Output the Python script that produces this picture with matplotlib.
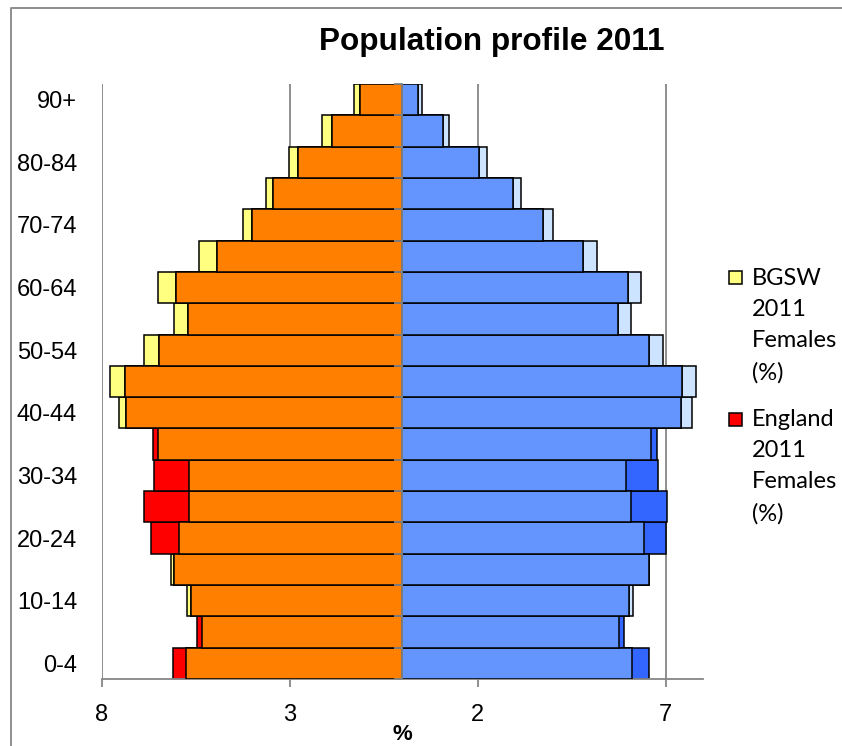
import numpy as np
import matplotlib
matplotlib.use("Agg")
import matplotlib.pyplot as plt
from matplotlib.patches import Rectangle
from matplotlib.lines import Line2D

# ---------------- data ----------------
age_groups = ['0-4', '5-9', '10-14', '15-19', '20-24', '25-29', '30-34', '35-39',
              '40-44', '45-49', '50-54', '55-59', '60-64', '65-69', '70-74',
              '75-79', '80-84', '85-89', '90+']

bgsw_females = [5.75, 5.32, 5.73, 6.16, 5.93, 5.68, 5.68, 6.49, 7.54, 7.77,
                6.87, 6.07, 6.49, 5.40, 4.23, 3.62, 3.01, 2.13, 1.28]
england_females = [6.09, 5.47, 5.61, 6.07, 6.68, 6.86, 6.61, 6.63, 7.35, 7.37,
                   6.46, 5.69, 6.03, 4.93, 4.00, 3.44, 2.77, 1.86, 1.13]
bgsw_males = [6.12, 5.77, 6.13, 6.55, 6.44, 6.07, 5.95, 6.61, 7.70, 7.80,
              6.94, 6.07, 6.34, 5.19, 4.02, 3.15, 2.25, 1.25, 0.52]
england_males = [6.57, 5.90, 6.04, 6.57, 7.00, 7.03, 6.80, 6.77, 7.40, 7.43,
                 6.55, 5.74, 6.00, 4.80, 3.73, 2.95, 2.05, 1.07, 0.43]

x_ticks = [-8, -3, 2, 7]
x_tick_labels = ['8', '3', '2', '7']
title = 'Population profile 2011'
x_label = '%'
legend_labels = ['BGSW\n2011\nFemales\n(%)', 'England\n2011\nFemales\n(%)']

# ---------------- style ----------------
W, H = 842, 746
GREY = '#868686'
C_BGSW_F = '#FFFF80'
C_ENG_F = '#FF0000'
C_OVL_F = '#FF8000'
C_BGSW_M = '#CCE4FF'
C_ENG_M = '#3366FF'
C_OVL_M = '#6495FF'
TICK_FONT = 'Liberation Sans'
LEG_FONT = 'Lato'

fig = plt.figure(figsize=(W / 100, H / 100), dpi=100)
ax = fig.add_axes([101.5 / W, 1 - 679 / H, 601.6 / W, 595 / H])

y = np.arange(len(age_groups))
bf = np.array(bgsw_females)
ef = np.array(england_females)
bm = np.array(bgsw_males)
em = np.array(england_males)

kw = dict(height=1.0, edgecolor='black', linewidth=1.1)
# females (left)
ax.barh(y, -bf, color=C_BGSW_F, zorder=2, **kw)
ax.barh(y, -ef, color=C_ENG_F, zorder=2, **kw)
ax.barh(y, -np.minimum(bf, ef), color=C_OVL_F, zorder=3, **kw)
# males (right)
ax.barh(y, bm, color=C_BGSW_M, zorder=2, **kw)
ax.barh(y, em, color=C_ENG_M, zorder=2, **kw)
ax.barh(y, np.minimum(bm, em), color=C_OVL_M, zorder=3, **kw)

ax.set_xlim(-8, 8)
ax.set_ylim(-0.5, len(age_groups) - 0.5)

ax.set_xticks(x_ticks)
ax.set_xticklabels(x_tick_labels, fontfamily=TICK_FONT, fontsize=17)
ax.tick_params(axis='x', direction='out', length=5.8, width=1.3, color=GREY, pad=12)
ax.grid(axis='x', color=GREY, linewidth=1.3, zorder=0)
ax.set_axisbelow(True)

ax.set_yticks(y[::2])
ax.set_yticklabels(age_groups[::2], fontfamily=TICK_FONT, fontsize=17)
ax.tick_params(axis='y', length=0, pad=17.5)

for s in ['left', 'top', 'right']:
    ax.spines[s].set_visible(False)
ax.spines['bottom'].set_color(GREY)
ax.spines['bottom'].set_linewidth(1.3)

ax.set_xlabel(x_label, fontfamily=TICK_FONT, fontsize=16, fontweight='bold', labelpad=-1)

# central vertical axis with category boundary ticks
sec = ax.secondary_yaxis(0.5)
sec.set_alignment('left')
sec.set_yticks(np.arange(-0.5, len(age_groups), 1.0))
sec.tick_params(axis='y', direction='out', length=5.8, width=1.3, color=GREY,
                labelleft=False, labelright=False)
sec.spines['left'].set_color(GREY)
sec.spines['left'].set_linewidth(1.3)
sec.set_zorder(5)

# title
fig.text(491.5 / W, 1 - 50 / H, title, ha='center', va='baseline',
         fontfamily='Liberation Sans', fontsize=22.7, fontweight='bold')

# legend (female series only, as in the reference)
leg_colors = [C_BGSW_F, C_ENG_F]
first_baselines = [285, 426.7]
last_baselines = [379.5, 520.5]
for lab, col, b0, b1 in zip(legend_labels, leg_colors, first_baselines, last_baselines):
    fig.add_artist(Rectangle((728.5 / W, 1 - (b0 - 1) / H), 13 / W, 13 / H,
                             transform=fig.transFigure, facecolor=col,
                             edgecolor='black', linewidth=1.1))
    fig.text(752 / W, 1 - b1 / H, lab, ha='left', va='baseline',
             fontfamily=LEG_FONT, fontsize=17, linespacing=1.6)

# chart border (left and top edges visible)
fig.add_artist(Line2D([10.5 / W, 10.5 / W, 1.0], [0.0, 1 - 7.5 / H, 1 - 7.5 / H],
                      transform=fig.transFigure, color=GREY, linewidth=1.3))

fig.savefig('out.png', dpi=100)
